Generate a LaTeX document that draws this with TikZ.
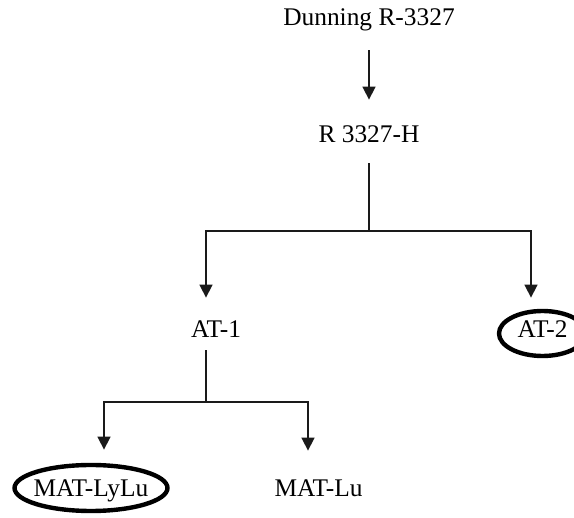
\documentclass[tikz,border=0pt]{standalone}
\usepackage{fontspec}
\setmainfont{Liberation Serif}
\usepackage{xcolor}
\usepackage{tikz}
\usetikzlibrary{arrows.meta,positioning,calc}
\definecolor{linegray}{HTML}{1A1A1A}

\begin{document}
\begin{tikzpicture}[x=0.5pt, y=-0.5pt,
        lbl/.style={inner sep=0pt, text height=7pt, text depth=0pt, font=\fontsize{12.7pt}{15pt}\selectfont},
        conn/.style={draw=linegray, line width=0.8pt},
        arr/.style={conn, -{Triangle[width=6.5pt,length=6.5pt]}},
        ring/.style={draw=black, line width=2.2pt}]
    \useasboundingbox (0,0) rectangle (574,518);

    % strains
    \node[lbl] (dunning) at (369,19) {Dunning R-3327};
    \node[lbl] (rh)      at (369,136) {R 3327-H};
    \node[lbl] (at1)     at (216,331) {AT-1};
    \node[lbl] (at2)     at (542.5,331) {AT-2};
    \node[lbl] (lylu)    at (91,490) {MAT-LyLu};
    \node[lbl] (lu)      at (318.5,490) {MAT-Lu};

    % branch points
    \coordinate (j1) at (369,231);
    \coordinate (j2) at (206,402);

    \draw[arr, shorten <=12pt, shorten >=14.5pt] (dunning) -- (rh);
    \draw[conn, shorten <=10pt] (rh) -- (j1);
    \draw[arr, shorten >=13pt] (j1) -| ([xshift=-5pt]at1.north);
    \draw[arr, shorten >=13pt] (j1) -| ([xshift=-5.75pt]at2.north);
    \draw[conn, shorten <=6pt] ([xshift=-5pt]at1.south) -- (j2);
    \draw[arr, shorten >=16.5pt] (j2) -| ([xshift=6.5pt]lylu.north);
    \draw[arr, shorten >=16pt] (j2) -| ([xshift=-5.25pt]lu.north);

    % circled lines
    \draw[ring] ([yshift=1pt]lylu.center) ellipse [x radius=38.25pt, y radius=11.5pt];
    \draw[ring] ([yshift=-1.25pt]at2.center) ellipse [x radius=21.75pt, y radius=11.25pt];
\end{tikzpicture}
\end{document}
